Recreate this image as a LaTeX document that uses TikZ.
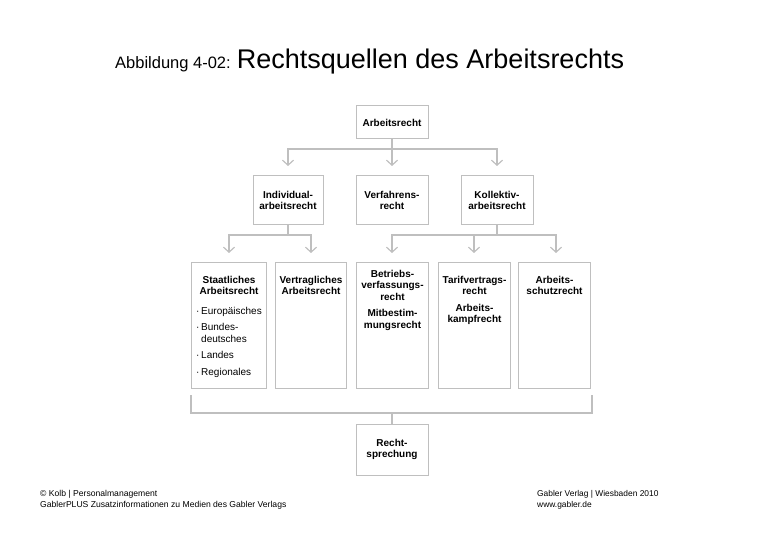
\documentclass[tikz,border=0pt]{standalone}
\usepackage{fontspec}
\setmainfont{Liberation Sans}
\usetikzlibrary{arrows.meta,positioning}
\tikzset{%
	box/.style    = {draw=black!25, line width=1pt, rectangle, minimum height=49pt, minimum width=72pt, align=center, font=\fontsize{10}{11.5}\selectfont\bfseries},
	tallbox/.style = {draw=black!25, line width=1pt, rectangle, anchor=north west, minimum height=126pt},
	boxtext/.style = {anchor=north, align=center, inner sep=0pt, font=\fontsize{10}{11.5}\selectfont\bfseries},
	link/.style   = {draw=black!25, line width=1.2pt},
	arrow/.style  = {link, -{Straight Barb[length=5pt,width=11pt]}},
	waypoint/.style = {coordinate},
}
\begin{document}
\begin{tikzpicture}[x=1pt,y=-1pt]
	\useasboundingbox (0,0) rectangle (780,540);
	\node [anchor=base west, inner sep=0pt] (title) at (115,69) {\fontsize{16.5}{18}\selectfont Abbildung 4-02: \fontsize{27}{28}\selectfont Rechtsquellen des Arbeitsrechts};
	
	\node [box, minimum height=33pt] (ar) at (392,122.5) {Arbeitsrecht};
	\node [box, minimum width=70pt] (ind) at (288,200.5) {Individual-\\arbeitsrecht};
	\node [box] (verf) at (392,200.5) {Verfahrens-\\recht};
	\node [box] (koll) at (497,200.5) {Kollektiv-\\arbeitsrecht};
	
	% Spalten
	\node [tallbox, minimum width=75pt] (staat) at (191,262) {};
	\node [tallbox, minimum width=71pt] (vertr) at (275,262) {};
	\node [tallbox, minimum width=72pt] (betr) at (356,262) {};
	\node [tallbox, minimum width=72pt] (tarif) at (438,262) {};
	\node [tallbox, minimum width=72pt] (schutz) at (518,262) {};
	
	\node [boxtext] (staatt) at ([yshift=-14pt]staat.north) {Staatliches\\Arbeitsrecht};
	\node [anchor=north west, align=left, inner sep=0pt, font=\fontsize{10}{11.5}\selectfont] (staatl) at (196,307) {·\,Europäisches\\[5pt]·\,Bundes-\\\phantom{·\,}deutsches\\[5pt]·\,Landes\\[5pt]·\,Regionales};
	\node [boxtext] (vertrt) at ([yshift=-14pt]vertr.north) {Vertragliches\\Arbeitsrecht};
	\node [boxtext] (betrt) at ([yshift=-8pt]betr.north) {Betriebs-\\verfassungs-\\recht\\[5pt]Mitbestim-\\mungsrecht};
	\node [boxtext] (tarift) at ([yshift=-14pt]tarif.north) {Tarifvertrags-\\recht\\[5pt]Arbeits-\\kampfrecht};
	\node [boxtext] (schutzt) at ([yshift=-14pt]schutz.north) {Arbeits-\\schutzrecht};
	
	\node [box, minimum height=51pt] (rs) at (392,449.5) {Recht-\\sprechung};
	
	% obere Ebene
	\node [waypoint] (wa) at (392,149) {};
	\draw [link] (ar) -- (wa);
	\draw [arrow] (wa) -| (288,166);
	\draw [arrow] (wa) -- (392,166);
	\draw [arrow] (wa) -| (497,166);
	
	% untere Ebene
	\node [waypoint] (wi) at (288,235) {};
	\node [waypoint] (wk) at (497,235) {};
	\draw [link] (ind) -- (wi);
	\draw [link] (koll) -- (wk);
	\draw [arrow] (wi) -| (229,253);
	\draw [arrow] (wi) -| (311,253);
	\draw [arrow] (wk) -| (392,253);
	\draw [arrow] (474,235) -- (474,253);
	\draw [arrow] (wk) -| (556,253);
	
	% Klammer
	\node [waypoint] (wr) at (392,413) {};
	\draw [link] (191,395) |- (wr) -| (592,395);
	\draw [link] (wr) -- (rs);
	
	\node [anchor=base west, align=left, inner sep=0pt, font=\fontsize{8.6}{11}\selectfont] (foot1) at (40,507) {© Kolb | Personalmanagement\\GablerPLUS Zusatzinformationen zu Medien des Gabler Verlags};
	\node [anchor=base west, align=left, inner sep=0pt, font=\fontsize{8.4}{11}\selectfont] (foot2) at (537,507) {Gabler Verlag | Wiesbaden 2010\\www.gabler.de};
\end{tikzpicture}
\end{document}
